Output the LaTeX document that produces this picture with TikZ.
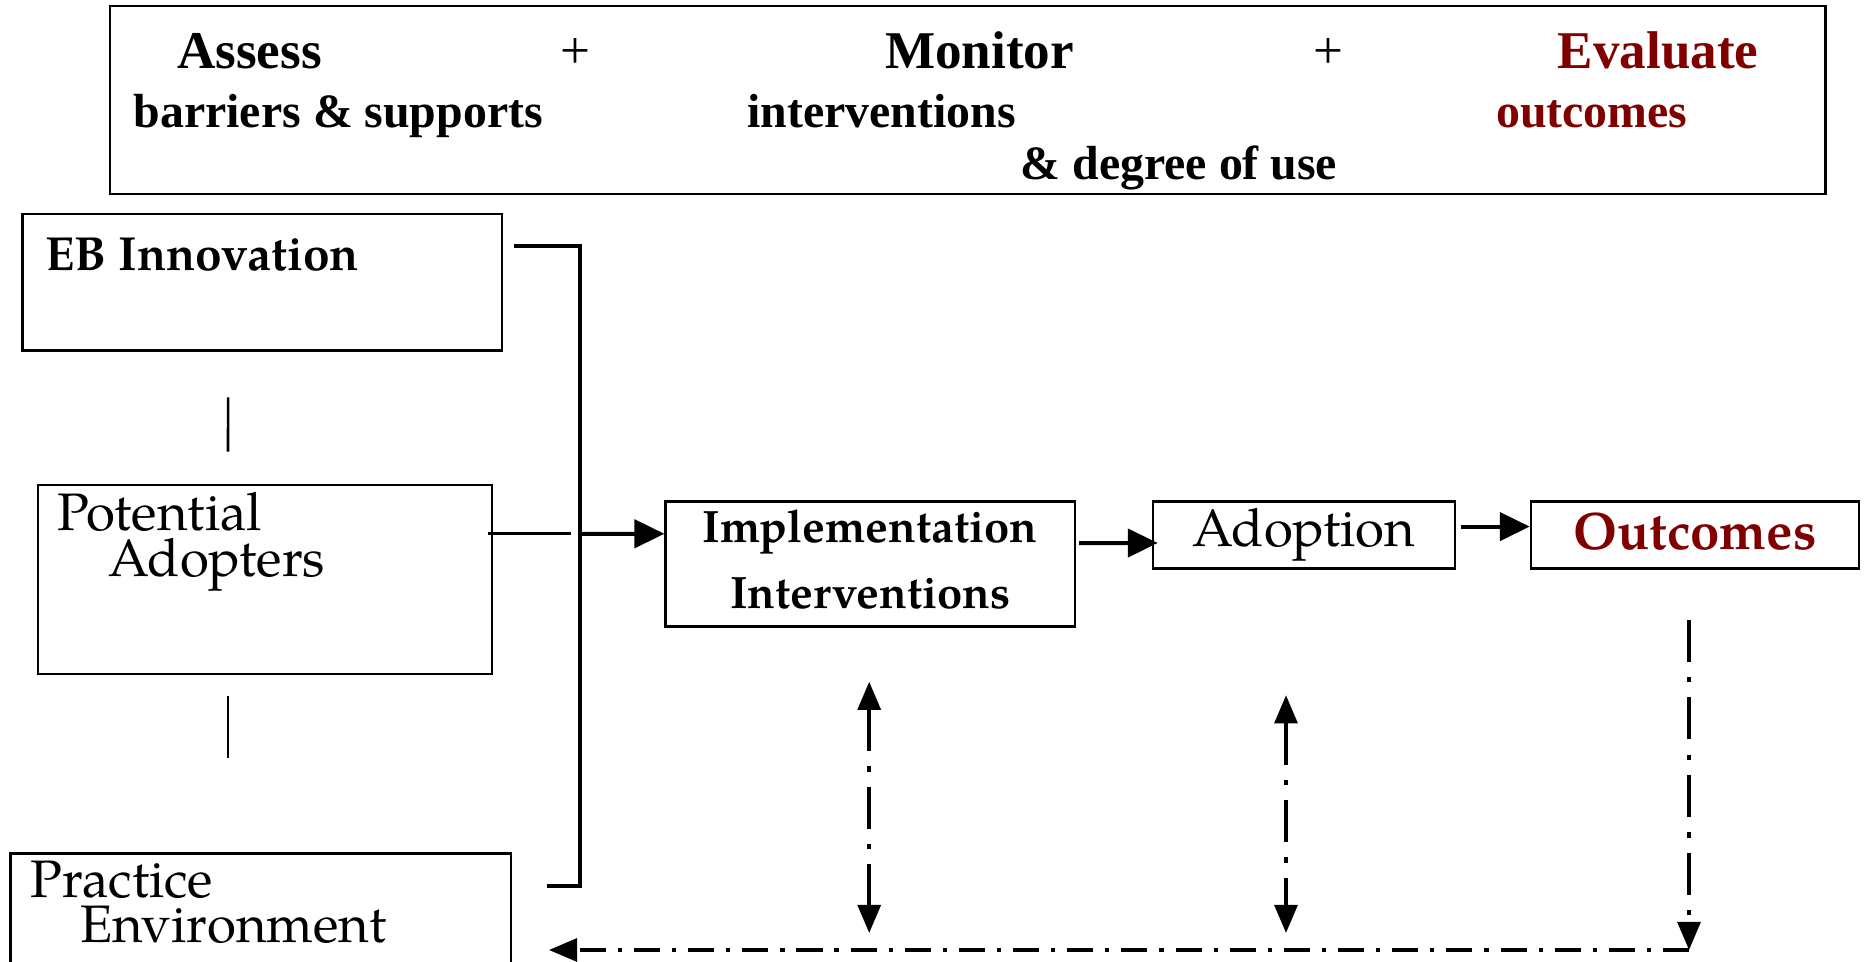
\documentclass[tikz,border=0pt]{standalone}
\usepackage{fontspec}
\setmainfont{TeX Gyre Pagella}
\newfontfamily\timesfont{Liberation Serif}
\usetikzlibrary{arrows.meta,positioning,calc}
\definecolor{outred}{HTML}{800000}

\begin{document}
\begin{tikzpicture}[x=0.01cm,y=-0.01cm,
        box/.style={draw,line width=0.7pt,inner sep=0pt},
        head/.style={font=\timesfont\bfseries\fontsize{15.1}{18}\selectfont,anchor=base,inner sep=0pt},
        plus/.style={font=\timesfont\fontsize{15.1}{18}\selectfont,anchor=base,inner sep=0pt},
        sub/.style={font=\timesfont\bfseries\fontsize{13.6}{16}\selectfont,anchor=base west,inner sep=0pt},
        big/.style={font=\fontsize{15}{13}\selectfont,anchor=base west,inner sep=0pt,align=left},
        flow/.style={line width=1.15pt,-{Triangle[length=8.5pt,width=8pt]}},
        bracket/.style={line width=1.2pt},
        stub/.style={line width=0.75pt},
        vdd/.style={line width=1.05pt,dash pattern=on 12pt off 4.3pt on 1.5pt off 4.3pt},
        hdd/.style={line width=1.05pt,dash pattern=on 7.4pt off 3.4pt on 1.2pt off 3.4pt},
        ddtip/.style={-{Triangle[length=8pt,width=6.5pt]}},
        ddboth/.style={{Triangle[length=8pt,width=6.5pt]}-{Triangle[length=8pt,width=6.5pt]}}]
    \useasboundingbox (0,0) rectangle (1864,962);

    \node[box,minimum width=17.142cm,minimum height=1.878cm] (frame) at (967.7,99.9) {};
    \node[head] (assess) at (249.6,69) {Assess};
    \node[sub] (barriers) at (133,128) {barriers \& supports};
    \node[plus] (plusa) at (575.4,69) {+};
    \node[head] (monitor) at (979.6,69) {Monitor};
    \node[sub] (interv) at (746.6,128) {interventions};
    \node[sub] (degree) at (1020,180) {\& degree of use};
    \node[plus] (plusb) at (1328,69) {+};
    \node[head,text=outred] (evaluate) at (1658,69) {Evaluate};
    \node[sub,text=outred] (outc) at (1495.5,128) {outcomes};

    \node[box,minimum width=4.791cm,minimum height=1.367cm] (eb) at (262.15,282.35) {};
    \node[font=\bfseries\fontsize{13.6}{16}\selectfont,anchor=base west,inner sep=0pt] (ebtxt) at (45,271) {EB Innovation};
    \node[box,minimum width=4.54cm,minimum height=1.89cm] (pa) at (265,579.5) {};
    \node[big] (patxt) at (57,576.6) {Potential\\\hspace*{0.51cm}Adopters};
    \node[box,minimum width=5.003cm,minimum height=1.364cm] (pe) at (260.85,921.8) {};
    \node[big] (petxt) at (29.7,943) {Practice\\\hspace*{0.5cm}Environment};

    \node[box,minimum width=4.09cm,minimum height=1.248cm,align=center,text depth=2.8pt,
          font=\bfseries\fontsize{12.9}{18.6}\selectfont] (ii) at (870.2,564.1) {Implementation\\Interventions};
    \node[box,minimum width=3.02cm,minimum height=0.666cm,
          font=\fontsize{15}{18}\selectfont] (ad) at (1304,535) {Adoption};
    \node[box,minimum width=3.28cm,minimum height=0.666cm,text=outred,text depth=2pt,
          font=\bfseries\fontsize{15}{18}\selectfont] (oc) at (1695,535) {Outcomes};

    \coordinate (ebend) at (513.6,246);
    \coordinate (bb) at (580,885.7);
    \coordinate (peend) at (547,885.7);
    \coordinate (join) at (580,533.8);
    \coordinate (retr) at (1689,950);
    \coordinate (ret) at (549,950);

    \draw[stub] ($(eb.south)+(-34,45.3)$) -- ($(pa.north)+(-37,-32)$);
    \draw[stub] ($(pa.south)+(-37,21)$) -- ++(0,62);
    \draw[bracket] (ebend) -| (bb) -- (peend);
    \draw[stub] ($(pa.east |- join)+(-5,0)$) -- ($(join)+(-9.4,0)$);
    \draw[flow] (join) -- ($(ii.west)+(0,-30.3)$);
    \draw[flow] ($(ii.east)+(3,-21)$) -- ($(ad.west)+(6,8)$);
    \draw[flow] ($(ad.east)+(5,-8.4)$) -- ($(oc.west)+(0,-8.4)$);

    \draw[vdd,ddboth] ($(ii.south)+(-1,54)$) -- ($(ii.south |- retr)+(-1,-17)$);
    \draw[vdd,ddboth] ($(ad.south)+(-18,125.7)$) -- ($(ad.south |- retr)+(-18,-17)$);
    \draw[vdd,ddtip] ($(oc.south)+(-6,50)$) -- (retr);
    \draw[hdd,ddtip] (retr) -- (ret);
\end{tikzpicture}
\end{document}
